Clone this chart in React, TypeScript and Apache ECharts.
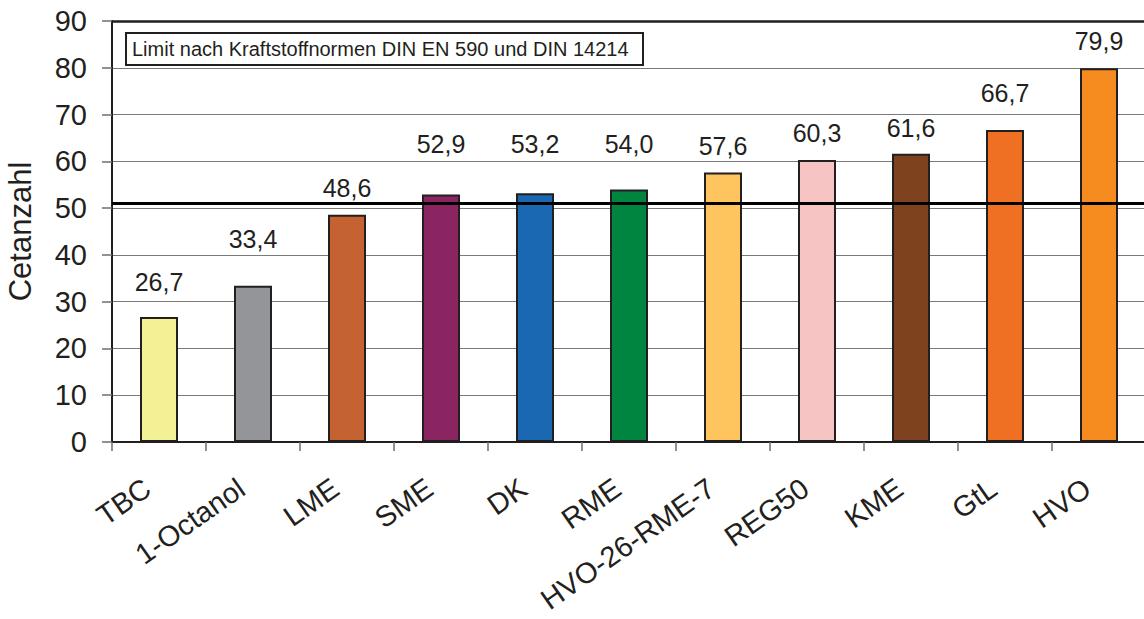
import React, { useEffect, useRef } from "react";
import * as echarts from "echarts";

const categories = ["TBC", "1-Octanol", "LME", "SME", "DK", "RME", "HVO-26-RME-7", "REG50", "KME", "GtL", "HVO"];
const values = [26.7, 33.4, 48.6, 52.9, 53.2, 54.0, 57.6, 60.3, 61.6, 66.7, 79.9];
const barColors = ["#F4F096", "#939598", "#C46331", "#8A2561", "#1B68B2", "#008540", "#FEC55E", "#F7C4C4", "#7E431E", "#F07023", "#F68B20"];
// gap (px) between bar top and its value label, as placed in the reference
const labelGaps = [23, 34, 14, 38, 37, 33, 14, 14, 13, 24, 15];
const limitValue = 51;
const yTicks = { min: 0, max: 90, interval: 10 };
const yAxisName = "Cetanzahl";
const legendText = "Limit nach Kraftstoffnormen DIN EN 590 und DIN 14214";

const FONT = "'Liberation Sans', Arial, sans-serif";

export default function App() {
  const ref = useRef<HTMLDivElement>(null);
  useEffect(() => {
    if (!ref.current) return;
    const chart = echarts.init(ref.current, null, { renderer: "svg" });
    chart.setOption({
      animation: false,
      backgroundColor: "#ffffff",
      grid: {
        left: 112,
        right: -2,
        top: 21,
        bottom: 177,
        containLabel: false,
        outerBoundsMode: "none",
      },
      xAxis: {
        type: "category",
        data: categories,
        axisLine: { lineStyle: { color: "#231f20", width: 2 } },
        axisTick: { show: true, length: 9, lineStyle: { color: "#6d6e71", width: 1.5 } },
        axisLabel: {
          rotate: 35,
          margin: 35,
          padding: [0, 14, 0, 0],
          fontSize: 29,
          color: "#231f20",
          fontFamily: FONT,
          interval: 0,
        },
      },
      yAxis: {
        type: "value",
        min: yTicks.min,
        max: yTicks.max,
        interval: yTicks.interval,
        name: yAxisName,
        nameLocation: "middle",
        nameGap: 76,
        nameTextStyle: { fontSize: 31, color: "#231f20", fontFamily: FONT },
        axisLine: { show: true, lineStyle: { color: "#231f20", width: 2 } },
        axisTick: { show: true, length: 10, lineStyle: { color: "#6d6e71", width: 1.5 } },
        axisLabel: { fontSize: 29, color: "#231f20", fontFamily: FONT, margin: 25 },
        splitLine: { show: true, lineStyle: { color: "#7a7a7a", width: 1.2 } },
      },
      series: [
        {
          type: "bar",
          data: values.map((v, i) => ({
            value: v,
            itemStyle: { color: barColors[i] },
            label: { distance: labelGaps[i] },
          })),
          barWidth: 38,
          itemStyle: { borderColor: "#231f20", borderWidth: 2 },
          label: {
            show: true,
            position: "top",
            fontSize: 25,
            color: "#231f20",
            fontFamily: FONT,
            formatter: (p: any) => p.value.toFixed(1).replace(".", ","),
          },
          markLine: {
            silent: true,
            symbol: "none",
            label: { show: false },
            data: [
              { yAxis: limitValue, lineStyle: { color: "#000000", width: 3, type: "solid" } },
              { yAxis: yTicks.max, lineStyle: { color: "#231f20", width: 2.5, type: "solid" } },
            ],
          },
        },
      ],
      graphic: [
        {
          type: "group",
          left: 125,
          top: 32,
          children: [
            {
              type: "rect",
              shape: { x: 0, y: 0, width: 517, height: 32 },
              style: { fill: "#ffffff", stroke: "#231f20", lineWidth: 2 },
            },
            {
              type: "text",
              x: 6,
              y: 16,
              style: {
                text: legendText,
                fontSize: 20,
                fontFamily: FONT,
                fill: "#231f20",
                verticalAlign: "middle",
              },
            },
          ],
        },
      ],
    });
    return () => chart.dispose();
  }, []);
  return (
    <div
      ref={ref}
      style={{ position: "fixed", left: 0, top: 0, width: 1144, height: 619 }}
    />
  );
}
